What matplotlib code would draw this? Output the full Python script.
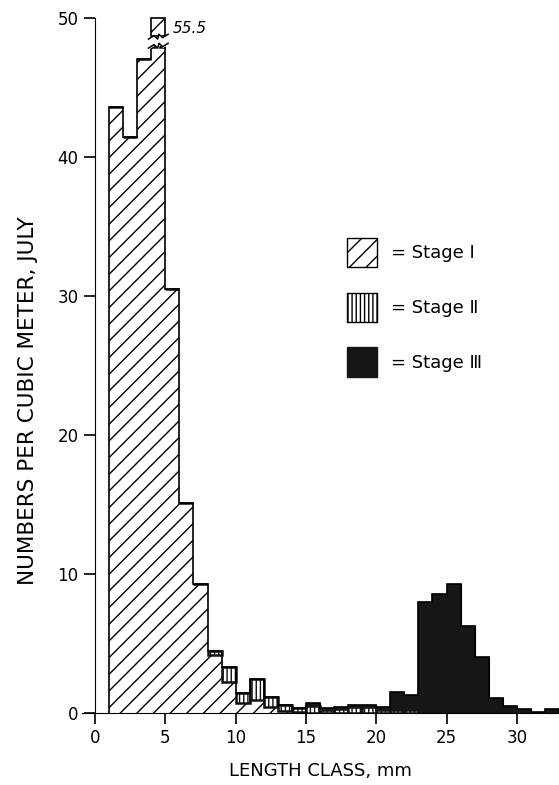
import numpy as np
import matplotlib.pyplot as plt
from matplotlib.patches import Patch, Rectangle

plt.rcParams['font.family'] = ['DejaVu Sans']
plt.rcParams['hatch.linewidth'] = 1.0

# length classes (left edge of each 1 mm class)
classes = np.arange(1, 33)

# numbers per cubic meter for each stage, classes 1..32
stage1 = [43.6, 41.4, 47.0, 55.5, 30.5, 15.1, 9.3, 4.15, 2.2, 0.7, 0.9, 0.4, 0.15, 0.05,
          0, 0, 0, 0, 0, 0, 0, 0, 0, 0, 0, 0, 0, 0, 0, 0, 0, 0]
stage2 = [0, 0, 0, 0, 0, 0, 0, 0.3, 1.1, 0.75, 1.55, 0.75, 0.45, 0.3,
          0.5, 0.25, 0.3, 0.4, 0.4, 0.2, 0.2, 0.2, 0.1, 0.1, 0, 0, 0, 0, 0, 0, 0, 0]
stage3 = [0, 0, 0, 0, 0, 0, 0, 0, 0, 0, 0, 0, 0, 0,
          0.2, 0.1, 0.1, 0.15, 0.15, 0.2, 1.3, 1.1, 7.9, 8.45, 9.3, 6.25, 4.0, 1.1, 0.5, 0.3, 0.05, 0.3]

broken_top = 47.9   # where the tall bar is cut

s1 = np.minimum(np.array(stage1), broken_top)
s2 = np.array(stage2)
s3 = np.array(stage3)

fig = plt.figure(figsize=(5.59, 7.85), dpi=100)
ax = fig.add_axes([0.1474, 0.0917, 0.8526, 0.886])

ax.bar(classes, s1, width=1, align='edge', color='white', edgecolor='black',
       linewidth=0, hatch='//')
ax.bar(classes, s2, width=1, align='edge', bottom=s1, color='white', edgecolor='#111111',
       linewidth=1.8, hatch='||||')
ax.bar(classes, s3, width=1, align='edge', bottom=s1 + s2, color='#161616',
       edgecolor='#161616', linewidth=0.8)

total = s1 + s2 + s3
ax.stairs(total, np.arange(1, 34), color='black', linewidth=1.2, baseline=0)

# broken bar: small box above the cut
i = 3
top_box = Rectangle((classes[i], 48.7), 1, 1.3, facecolor='white', edgecolor='black',
                    hatch='//', linewidth=1.2, clip_on=False)
ax.add_patch(top_box)
zz_x = classes[i] + np.array([-0.2, 0.2, 0.45, 0.55, 0.8, 1.2])
zz_y = np.array([0.0, 0.25, 0.0, 0.35, 0.1, 0.35])
ax.fill_between(zz_x, broken_top + zz_y - 0.1, 48.7 + zz_y - 0.25, color='white', zorder=4, clip_on=False)
ax.plot(zz_x, broken_top + zz_y - 0.1, color='black', lw=1.1, zorder=5, clip_on=False)
ax.plot(zz_x, 48.7 + zz_y - 0.25, color='black', lw=1.1, zorder=5, clip_on=False)
ax.text(5.55, 49.2, '55.5', fontsize=11, style='italic', va='center', ha='left')

ax.set_xlim(-0.9, 33)
ax.set_ylim(0, 50)
ax.spines['left'].set_position(('data', 0))
ax.spines['top'].set_visible(False)
ax.spines['right'].set_visible(False)
ax.set_xticks([0, 5, 10, 15, 20, 25, 30])
ax.set_yticks([0, 10, 20, 30, 40, 50])
ax.tick_params(direction='out', length=8, width=1.2, labelsize=12)
ax.tick_params(axis='y', pad=4)

ax.set_xlabel('LENGTH CLASS, mm', fontsize=13, labelpad=11)
fig.text(0.05, 0.49, 'NUMBERS PER CUBIC METER, JULY', rotation=90, fontsize=15.5,
         ha='center', va='center')

handles = [Patch(facecolor='white', edgecolor='black', hatch='//', label='= Stage Ⅰ'),
           Patch(facecolor='white', edgecolor='black', hatch='||||', label='= Stage Ⅱ'),
           Patch(facecolor='#161616', edgecolor='#161616', label='= Stage Ⅲ')]
fig.legend(handles=handles, loc='upper left', bbox_to_anchor=(0.592, 0.718),
           frameon=False, fontsize=13, handlelength=1.65, handleheight=2.15,
           labelspacing=1.4, handletextpad=0.75)

fig.savefig('out.png', dpi=100)
